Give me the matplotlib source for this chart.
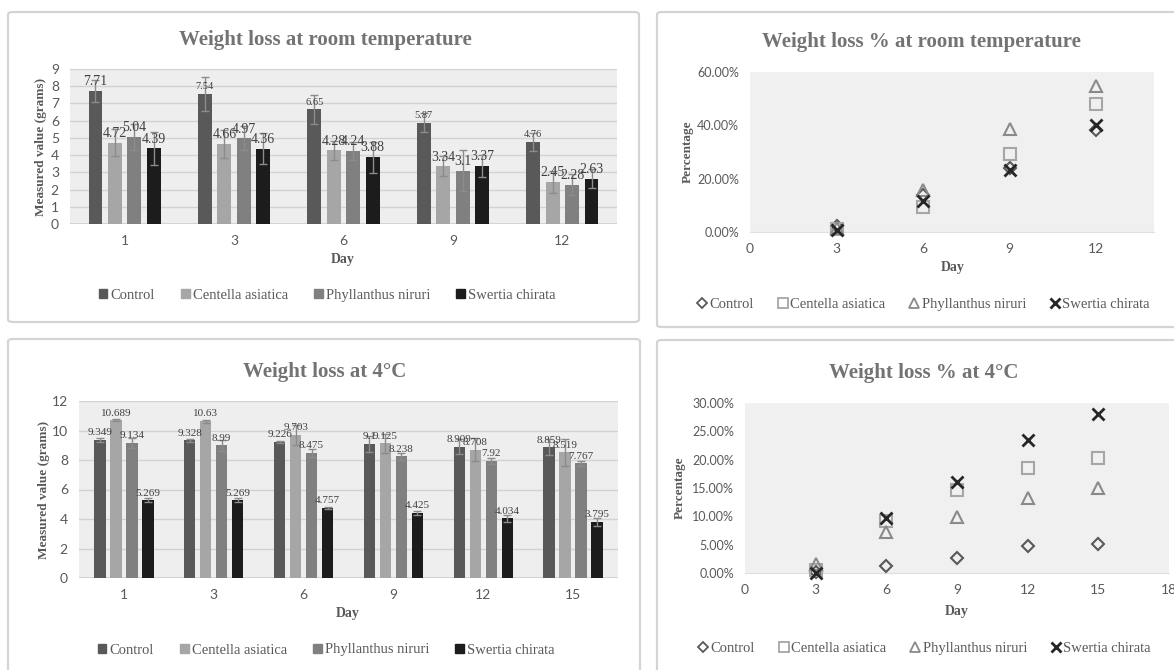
import numpy as np
import matplotlib.pyplot as plt
from matplotlib.patches import FancyBboxPatch, Patch
from matplotlib.lines import Line2D
from matplotlib.ticker import FuncFormatter

W, H = 1174, 670

series = ["Control", "Centella asiatica", "Phyllanthus niruri", "Swertia chirata"]

# room temperature, grams
room_days = ["1", "3", "6", "9", "12"]
room_control = [7.71, 7.54, 6.65, 5.87, 4.76]
room_centella = [4.72, 4.66, 4.28, 3.34, 2.45]
room_phyllanthus = [5.04, 4.97, 4.24, 3.1, 2.28]
room_swertia = [4.39, 4.36, 3.88, 3.37, 2.63]
room_control_err = [0.65, 1.0, 0.85, 0.55, 0.55]
room_centella_err = [0.8, 0.8, 0.55, 0.58, 0.65]
room_phyllanthus_err = [0.75, 0.7, 0.55, 1.2, 0.6]
room_swertia_err = [0.95, 0.9, 0.9, 0.62, 0.55]

# 4 degC, grams
cold_days = ["1", "3", "6", "9", "12", "15"]
cold_control = [9.349, 9.328, 9.226, 9.1, 8.909, 8.859]
cold_centella = [10.689, 10.63, 9.703, 9.125, 8.708, 8.519]
cold_phyllanthus = [9.134, 8.99, 8.475, 8.238, 7.92, 7.767]
cold_swertia = [5.269, 5.269, 4.757, 4.425, 4.034, 3.795]
cold_control_err = [0.12, 0.08, 0.08, 0.55, 0.5, 0.55]
cold_centella_err = [0.06, 0.1, 0.7, 0.65, 0.75, 0.9]
cold_phyllanthus_err = [0.35, 0.38, 0.28, 0.22, 0.2, 0.18]
cold_swertia_err = [0.15, 0.15, 0.05, 0.15, 0.25, 0.25]

# weight loss %, room temperature
pct_room_days = [3, 6, 9, 12]
pct_room_control = [0.022, 0.137, 0.239, 0.383]
pct_room_centella = [0.013, 0.093, 0.292, 0.481]
pct_room_phyllanthus = [0.014, 0.159, 0.385, 0.548]
pct_room_swertia = [0.007, 0.116, 0.232, 0.401]

# weight loss %, 4 degC
pct_cold_days = [3, 6, 9, 12, 15]
pct_cold_control = [0.002, 0.013, 0.027, 0.047, 0.052]
pct_cold_centella = [0.0055, 0.092, 0.146, 0.185, 0.203]
pct_cold_phyllanthus = [0.016, 0.072, 0.098, 0.133, 0.150]
pct_cold_swertia = [0.0, 0.097, 0.160, 0.234, 0.280]

bar_colors = ["#595959", "#a6a6a6", "#808080", "#1c1c1c"]
mk_colors = ["#595959", "#a6a6a6", "#8a8a8a", "#262626"]
markers = ["D", "s", "^", "x"]
SERIF = "Liberation Serif"
SANS = "Lato"
TXT = "#595959"

fig = plt.figure(figsize=(W / 100, H / 100), dpi=100)


def fx(x):
    return x / W


def fy(y):
    return 1 - y / H


def panel(x0, y0, x1, y1):
    p = FancyBboxPatch((fx(x0), fy(y1)), fx(x1) - fx(x0), fy(y0) - fy(y1),
                       boxstyle="round,pad=0,rounding_size=0.004",
                       transform=fig.transFigure, fc="white", ec="#d4d4d4",
                       lw=1.6, zorder=-5)
    fig.patches.append(p)


def axes_px(x0, y0, x1, y1, tsize):
    ax = fig.add_axes([fx(x0), fy(y1), fx(x1) - fx(x0), fy(y0) - fy(y1)])
    ax.set_facecolor("#eeeeee")
    for s in ax.spines.values():
        s.set_visible(False)
    ax.tick_params(length=0, labelsize=tsize, labelcolor=TXT, pad=8)
    return ax


def ftext(x, y, s, **kw):
    fig.text(fx(x), fy(y), s, ha="center", va="center", **kw)


def bar_panel(box, area, days, vals, errs, ymax, ystep, title, tpos, daypos, legpos,
              ylabx, lab_sizes, lab_fmt):
    panel(*box)
    ax = axes_px(*area, 10)
    x = np.arange(len(days))
    for i, (v, e) in enumerate(zip(vals, errs)):
        xs = x + (i - 1.5) * 0.178
        ax.bar(xs, v, 0.127, color=bar_colors[i], zorder=2)
        ax.errorbar(xs, v, yerr=e, fmt="none", ecolor="#8c8c8c", elinewidth=1,
                    capsize=3, capthick=1, zorder=3)
        for j, (xx, vv) in enumerate(zip(xs, v)):
            ax.annotate(lab_fmt(vv), (xx, vv), xytext=(0, 2),
                        textcoords="offset points", ha="center", va="bottom",
                        fontsize=lab_sizes[i][j], family=SERIF, color="#404040",
                        zorder=4)
    ax.set_xlim(-0.5, len(days) - 0.5)
    ax.set_ylim(0, ymax)
    ax.set_yticks(np.arange(0, ymax + 1e-9, ystep))
    ax.set_xticks(x)
    ax.set_xticklabels(days)
    ax.yaxis.grid(True, color="#d2d2d2", lw=1, zorder=1)
    ax.axhline(0, color="#cfcfcf", lw=1.2, zorder=1)
    ax.set_axisbelow(True)
    for t in ax.get_xticklabels() + ax.get_yticklabels():
        t.set_family(SANS)
    ftext(*tpos, title, family=SERIF, fontsize=15, fontweight="bold", color="#737373")
    ftext(*daypos, "Day", family=SERIF, fontsize=10, fontweight="bold", color=TXT)
    ftext(ylabx, (area[1] + area[3]) / 2, "Measured value (grams)", family=SERIF,
          fontsize=9.5, fontweight="bold", color=TXT, rotation=90)
    handles = [Patch(color=c) for c in bar_colors]
    fig.legend(handles, series, loc="center", bbox_to_anchor=(fx(legpos[0]), fy(legpos[1])),
               ncol=4, frameon=False, handlelength=0.6, handleheight=0.6,
               handletextpad=0.2, columnspacing=1.8,
               prop={"family": SERIF, "size": 10.5}, labelcolor=TXT)
    return ax


def scatter_panel(box, area, days, vals, xmax, xticks, ymax, ystep, title, tpos,
                  daypos, legpos, ylabx):
    panel(*box)
    ax = axes_px(*area, 9)
    ax.set_facecolor("#f0f0f0")
    for i, v in enumerate(vals):
        if markers[i] == "x":
            ax.plot(days, v, ls="none", marker="x", ms=8, mew=2,
                    color=mk_colors[i], zorder=3 + i, clip_on=False)
        else:
            ax.plot(days, v, ls="none", marker=markers[i],
                    ms=6.5 if markers[i] == "D" else 8, mfc="none", mew=1.5,
                    color=mk_colors[i], zorder=3 + i, clip_on=False)
    ax.set_xlim(0, xmax)
    ax.set_ylim(0, ymax)
    ax.set_xticks(xticks)
    ax.set_yticks(np.arange(0, ymax + 1e-9, ystep))
    ax.yaxis.set_major_formatter(FuncFormatter(lambda v, p: f"{v * 100:.2f}%"))
    ax.tick_params(axis="x", labelsize=10)
    ax.spines["bottom"].set_visible(True)
    ax.spines["bottom"].set_color("#e0e0e0")
    for t in ax.get_xticklabels() + ax.get_yticklabels():
        t.set_family(SANS)
    ftext(*tpos, title, family=SERIF, fontsize=15, fontweight="bold", color="#737373")
    ftext(*daypos, "Day", family=SERIF, fontsize=10, fontweight="bold", color=TXT)
    ftext(ylabx, (area[1] + area[3]) / 2, "Percentage", family=SERIF,
          fontsize=9.5, fontweight="bold", color=TXT, rotation=90)
    handles = []
    for i in range(4):
        if markers[i] == "x":
            handles.append(Line2D([], [], ls="none", marker="x", ms=7, mew=2, color=mk_colors[i]))
        else:
            handles.append(Line2D([], [], ls="none", marker=markers[i],
                                  ms=5 if markers[i] == "D" else 6.5, mfc="none",
                                  mew=1.3, color=mk_colors[i]))
    fig.legend(handles, series, loc="center", bbox_to_anchor=(fx(legpos[0]), fy(legpos[1])),
               ncol=4, frameon=False, handlelength=0.8, handletextpad=0.1,
               columnspacing=1.6, prop={"family": SERIF, "size": 10.5}, labelcolor=TXT)
    return ax


room_sizes = [[10, 7.5, 7.5, 7.5, 7.5], [10] * 5, [10] * 5, [10] * 5]
bar_panel((8, 12, 639, 322), (70, 69, 617, 224), room_days,
          [room_control, room_centella, room_phyllanthus, room_swertia],
          [room_control_err, room_centella_err, room_phyllanthus_err, room_swertia_err],
          9, 1, "Weight loss at room temperature", (325, 40), (343, 260), (327, 295),
          41, room_sizes, lambda v: f"{v:g}")

cold_sizes = [[8] * 6] * 4
bar_panel((8, 339, 640, 700), (79, 401, 618, 578), cold_days,
          [cold_control, cold_centella, cold_phyllanthus, cold_swertia],
          [cold_control_err, cold_centella_err, cold_phyllanthus_err, cold_swertia_err],
          12, 2, "Weight loss at 4°C", (325, 372), (348, 614), (326, 650),
          44, cold_sizes, lambda v: f"{v:g}")

scatter_panel((657, 12, 1190, 327), (750, 72, 1154, 232), pct_room_days,
              [pct_room_control, pct_room_centella, pct_room_phyllanthus, pct_room_swertia],
              14, [0, 3, 6, 9, 12], 0.6, 0.2, "Weight loss % at room temperature",
              (921, 42), (953, 268), (923, 304), 688)

scatter_panel((657, 340, 1190, 700), (745, 403, 1169, 573), pct_cold_days,
              [pct_cold_control, pct_cold_centella, pct_cold_phyllanthus, pct_cold_swertia],
              18, [0, 3, 6, 9, 12, 15, 18], 0.30, 0.05, "Weight loss % at 4°C",
              (924, 373), (957, 611), (924, 648), 680)

fig.savefig("out.png", dpi=100)
